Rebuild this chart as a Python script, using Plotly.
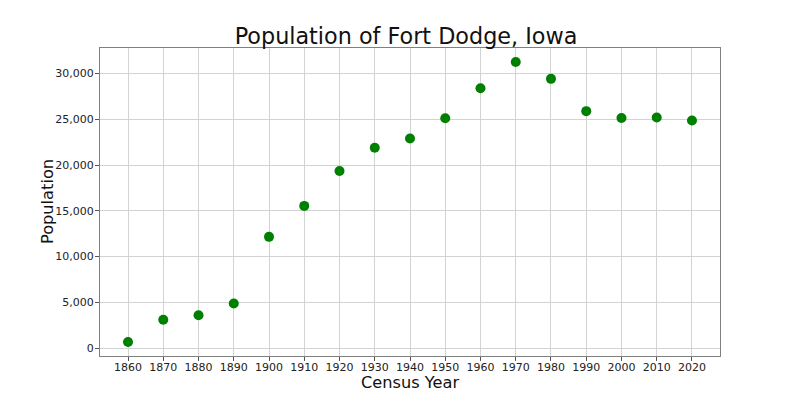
import plotly.graph_objects as go

years = [1860, 1870, 1880, 1890, 1900, 1910, 1920, 1930, 1940, 1950, 1960, 1970, 1980, 1990, 2000, 2010, 2020]
population = [673, 3095, 3586, 4871, 12162, 15543, 19347, 21895, 22904, 25115, 28399, 31263, 29423, 25894, 25136, 25206, 24871]
x_ticks = years
y_ticks = [0, 5000, 10000, 15000, 20000, 25000, 30000]
y_tick_labels = ["0", "5,000", "10,000", "15,000", "20,000", "25,000", "30,000"]

fig = go.Figure(go.Scatter(
    x=years, y=population, mode="markers",
    marker=dict(color="#008000", size=10, line=dict(width=0)),
))

axis_common = dict(
    showline=True, linecolor="#808080", linewidth=1, mirror=True,
    showgrid=True, gridcolor="#d3d3d3", gridwidth=1,
    ticks="outside", ticklen=4, tickcolor="#555555",
    tickfont=dict(family="DejaVu Sans", size=11, color="#222222"),
    zeroline=False, automargin=False,
)

title_font = dict(family="DejaVu Sans", size=16.2, color="#111111")

fig.update_layout(
    width=800, height=400,
    margin=dict(l=100, r=80, t=48, b=44),
    paper_bgcolor="white", plot_bgcolor="white",
    showlegend=False,
    title=dict(text="Population of Fort Dodge, Iowa", x=406 / 800, xanchor="center",
               y=1 - 36 / 400, yanchor="middle",
               font=dict(family="DejaVu Sans", size=22.3, color="#111111")),
    xaxis=dict(**axis_common, range=[1852.05, 2027.95], tickvals=x_ticks, ticklabelstandoff=-3),
    yaxis=dict(**axis_common, range=[-857, 32793], tickvals=y_ticks, ticktext=y_tick_labels,
               ticklabelstandoff=-1),
    annotations=[
        dict(text="Census Year", xref="paper", yref="paper", x=0.5, y=-26 / 308,
             xanchor="center", yanchor="middle", showarrow=False, font=title_font, borderpad=0),
        dict(text="Population", xref="paper", yref="paper", x=-53 / 620, y=0.5,
             xanchor="center", yanchor="middle", showarrow=False, textangle=-90, font=title_font,
             borderpad=0),
    ],
)

fig.write_html("out.html")
